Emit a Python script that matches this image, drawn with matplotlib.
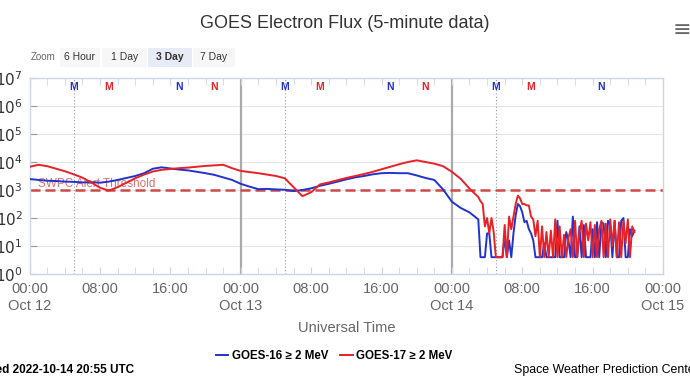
import numpy as np
import matplotlib
matplotlib.use("Agg")
import matplotlib.pyplot as plt
from matplotlib.patches import Rectangle
from matplotlib.ticker import FixedLocator, LogLocator, NullFormatter
import matplotlib.transforms as mtransforms

plt.rcParams["font.family"] = ["Liberation Sans", "DejaVu Sans"]

# ---- data (log10 of electron flux, pfu) ----
# hourly, Oct 12 00:00 .. Oct 14 03:00
hours_smooth = list(range(0, 52))
goes16_smooth = [
    3.39, 3.36, 3.33, 3.32, 3.30, 3.29, 3.27, 3.28, 3.26, 3.30, 3.36, 3.43,
    3.50, 3.60, 3.76, 3.81, 3.77, 3.73, 3.70, 3.65, 3.60, 3.54, 3.45, 3.36,
    3.22, 3.12, 3.03, 3.04, 3.02, 3.01, 2.96, 3.00, 3.06, 3.15, 3.22, 3.30,
    3.38, 3.45, 3.50, 3.56, 3.60, 3.61, 3.60, 3.60, 3.52, 3.43, 3.36, 3.02,
    2.58, 2.36, 2.20, 1.95,
]
goes17_smooth = [
    3.83, 3.90, 3.85, 3.76, 3.67, 3.56, 3.44, 3.27, 3.08, 2.98, 3.10, 3.26,
    3.42, 3.55, 3.66, 3.72, 3.75, 3.78, 3.80, 3.83, 3.86, 3.88, 3.90, 3.78,
    3.68, 3.64, 3.60, 3.55, 3.50, 3.42, 3.10, 2.78, 2.92, 3.20, 3.27, 3.35,
    3.43, 3.50, 3.57, 3.65, 3.74, 3.83, 3.92, 4.00, 4.06, 4.00, 3.94, 3.85,
    3.65, 3.40, 3.05, 2.75,
]

# 15-minute, Oct 14 03:15 .. 20:45 (noise floor ~ 10^0.6)
F = 0.6
hours_noisy = [48 + 3.25 + 0.25 * i for i in range(71)]
goes16_noisy = [
    F, F, F,
    1.45, 1.45, F, F,
    F, F, F, F,
    1.30, F, 1.20, F,
    1.45, 2.10, 2.50, 2.42,
    2.20, 1.85, 1.90, 1.60,
    1.45, 1.20, F, F,
    F, F, 1.10, F,
    F, F, F, F,
    1.90, F, F, F,
    1.50, 1.20, F, 2.05,
    F, F, 1.70, F,
    1.75, F, F, F,
    1.60, F, 1.85, F,
    1.85, 1.80, F, 1.90,
    1.75, F, 1.90, F,
    F, 1.90, 2.00, F,
    F, 1.60, 1.35, 1.55,
]
goes17_noisy = [
    2.60, 2.50, 1.70,
    2.00, 1.45, 2.00, 1.50,
    F, F, F, F,
    1.75, F, 2.05, 1.60,
    2.05, 2.50, 2.80, 2.70,
    2.50, 2.50, 2.45, 2.45,
    2.05, 1.95, 1.35, 1.90,
    F, 1.70, F, 1.50,
    F, 1.55, F, 1.95,
    F, 1.70, F, 1.40,
    F, 1.30, 1.60, F,
    1.90, F, 1.50, 1.90,
    F, 1.80, 1.20, 1.85,
    F, 1.75, F, 1.60,
    1.90, F, 1.80, F,
    1.95, 1.00, 1.90, F,
    1.85, F, 1.90, 1.10,
    1.95, F, 1.70, 1.50,
]

threshold = 1e3
day_labels = ["Oct 12", "Oct 13", "Oct 14", "Oct 15"]

# magnetic midnight / noon markers (hour of day)
marker_hours = [5, 9, 17, 21]
marker_text = ["M", "M", "N", "N"]
marker_sat = [16, 17, 16, 17]
now_hour = 48 + 20.9

BLUE = "#2233cc"
RED = "#e62228"

hours = hours_smooth + hours_noisy
g16 = np.power(10.0, goes16_smooth + goes16_noisy)
g17 = np.power(10.0, goes17_smooth + goes17_noisy)

W, H = 690, 388
fig = plt.figure(figsize=(W / 100, H / 100), dpi=100)
ax = fig.add_axes([29.7 / W, 1 - 274 / H, (663 - 29.7) / W, (274 - 78) / H])

ax.set_yscale("log")
ax.set_ylim(1, 1e7)
ax.set_xlim(0, 72)

# grid
for d in range(8):
    ax.axhline(10.0 ** d, color="#e6e6e6", lw=0.8, zorder=0)
for d in (24, 48):
    ax.axvline(d, color="#aaaaaa", lw=1.6, zorder=1)
for d in (0, 24, 48):
    ax.axvline(d + 5, color="#999999", lw=0.8, ls=(0, (1, 2)), zorder=1)

# threshold
ax.axhline(threshold, color="#cc4a4a", lw=1.8, ls=(0, (4, 2)), zorder=2)
ax.text(0.95, 10 ** 3.2, "SWPC Alert Threshold", color="#d25a5a",
        fontsize=8.5, ha="left", va="center", alpha=0.85, zorder=1.5)

l16, = ax.plot(hours, g16, color=BLUE, lw=1.4, zorder=3,
               label="GOES-16 \u2265 2 MeV")
l17, = ax.plot(hours, g17, color=RED, lw=1.4, zorder=4,
               label="GOES-17 \u2265 2 MeV")

# M / N markers along the top
trans = mtransforms.blended_transform_factory(ax.transData, ax.transAxes)
for day in range(3):
    for hr, txt, sat in zip(marker_hours, marker_text, marker_sat):
        t = day * 24 + hr
        if t > now_hour:
            continue
        ax.text(t, 0.955, txt, transform=trans, ha="center", va="center",
                fontsize=7.5, fontweight="bold",
                color=BLUE if sat == 16 else RED)

# axes styling
for s in ax.spines.values():
    s.set_color("#ccd6eb")
    s.set_linewidth(1.0)

major = list(range(0, 73, 8))
ax.xaxis.set_major_locator(FixedLocator(major))
ax.xaxis.set_minor_locator(FixedLocator(list(range(0, 73, 2))))
labels = []
for h in major:
    hh = "%02d:00" % (h % 24)
    labels.append(hh + "\n" + day_labels[h // 24] if h % 24 == 0 else hh)
ax.set_xticklabels(labels)
ax.tick_params(axis="x", which="both", direction="in", top=True,
               color="#ccd6eb", labelcolor="#666666", labelsize=10.5, pad=6)
ax.tick_params(axis="x", which="major", length=5)
ax.tick_params(axis="x", which="minor", length=5)

ax.set_yticks([10.0 ** d for d in range(8)])
ax.set_yticklabels([r"$10^{%d}$" % d for d in range(8)])
ax.yaxis.set_minor_locator(LogLocator(base=10, subs=np.arange(2, 10)))
ax.yaxis.set_minor_formatter(NullFormatter())
ax.tick_params(axis="y", which="major", length=5, direction="in",
               color="#999999", labelcolor="#333333", labelsize=11, pad=5)
ax.tick_params(axis="y", which="minor", length=3, direction="in",
               color="#bbbbbb")

ax.set_xlabel("Universal Time", color="#666666", fontsize=10.5, labelpad=6)

# title and chrome
fig.text(345 / W, 1 - 23 / H, "GOES Electron Flux (5-minute data)",
         ha="center", va="center", fontsize=13, color="#333333")
fig.text(682 / W, 1 - 30 / H, "\u2261", ha="center", va="center",
         fontsize=16, color="#666666", family=["DejaVu Sans"])

fig.text(43 / W, 1 - 57 / H, "Zoom", ha="center", va="center",
         fontsize=7, color="#666666")
buttons = [("6 Hour", 60, 100), ("1 Day", 102, 147),
           ("3 Day", 148, 192), ("7 Day", 193, 235)]
for name, x0, x1 in buttons:
    sel = name == "3 Day"
    fig.patches.append(Rectangle((x0 / W, 1 - 67 / H), (x1 - x0) / W, 19 / H,
                                 transform=fig.transFigure,
                                 facecolor="#e6ebf5" if sel else "#f7f7f7",
                                 edgecolor="none"))
    fig.text((x0 + x1) / 2 / W, 1 - 57.5 / H, name, ha="center", va="center",
             fontsize=7.5, color="#333333",
             fontweight="bold" if sel else "normal")

fig.legend(handles=[l16, l17], loc="center", ncol=2,
           bbox_to_anchor=(334 / W, 1 - 356 / H), frameon=False,
           handlelength=1.1, columnspacing=1.0, handletextpad=0.3,
           prop={"size": 8.3, "weight": "bold",
                 "family": ["Liberation Sans", "DejaVu Sans"]})

fig.text(134 / W, 1 - 370 / H, "Updated 2022-10-14 20:55 UTC", ha="right",
         va="center", fontsize=8.5, fontweight="bold", color="#000000")
fig.text(514 / W, 1 - 370 / H, "Space Weather Prediction Center", ha="left",
         va="center", fontsize=8.9, color="#000000")

fig.savefig("out.png", dpi=100, facecolor="white")
